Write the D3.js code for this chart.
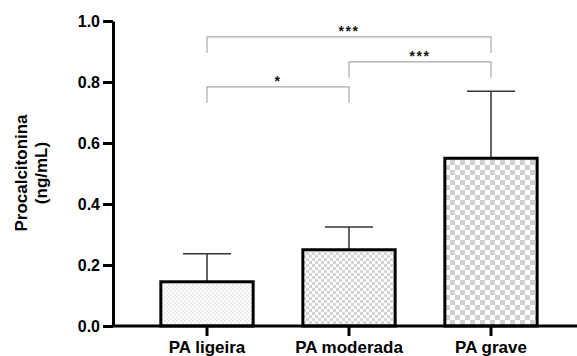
<!DOCTYPE html>
<html lang="en">
<head>
<meta charset="utf-8">
<title>Procalcitonina</title>
<script src="https://d3js.org/d3.v7.min.js"></script>
<style>
  body { margin: 0; background: #fff; }
  text { font-family: "Liberation Sans", Arial, sans-serif; }
</style>
</head>
<body>
<div id="chart"></div>
<script>
// data
var categories = ["PA ligeira", "PA moderada", "PA grave"];
var means = [0.145, 0.25, 0.55];
var errors = [0.092, 0.075, 0.22];
var yTicks = [0.0, 0.2, 0.4, 0.6, 0.8, 1.0];
var bracketFrom = [0, 1, 0];
var bracketTo = [2, 2, 1];
var bracketLevel = [0.948, 0.866, 0.784];
var bracketLabel = ["***", "***", "*"];

var W = 577, H = 356;
var plotLeft = 113, plotRight = 577, plotTop = 21, plotBottom = 326;

var svg = d3.select("#chart").append("svg")
  .attr("width", W)
  .attr("height", H);

var y = d3.scaleLinear().domain([0, 1]).range([plotBottom, plotTop]);
var x = d3.scaleBand().domain(categories)
  .range([136, 562])
  .paddingInner(0.35)
  .paddingOuter(0.175);

// fill patterns (checker, getting coarser per group)
var defs = svg.append("defs");
var pats = [
  { id: "p0", s: 2, c: "#ebebeb" },
  { id: "p1", s: 3, c: "#d4d4d4" },
  { id: "p2", s: 5, c: "#d0d0d0" }
];
pats.forEach(function(p) {
  var pt = defs.append("pattern")
    .attr("id", p.id)
    .attr("patternUnits", "userSpaceOnUse")
    .attr("width", p.s * 2)
    .attr("height", p.s * 2);
  pt.append("rect").attr("width", p.s * 2).attr("height", p.s * 2).attr("fill", "#fff");
  pt.append("rect").attr("width", p.s).attr("height", p.s).attr("fill", p.c);
  pt.append("rect").attr("x", p.s).attr("y", p.s).attr("width", p.s).attr("height", p.s).attr("fill", p.c);
});

// error bars (behind bars)
var cap = 24;
categories.forEach(function(c, i) {
  var cx = x(c) + x.bandwidth() / 2;
  svg.append("line")
    .attr("x1", cx).attr("x2", cx)
    .attr("y1", y(means[i])).attr("y2", y(means[i] + errors[i]))
    .attr("stroke", "#333").attr("stroke-width", 1.5);
  svg.append("line")
    .attr("x1", cx - cap).attr("x2", cx + cap)
    .attr("y1", y(means[i] + errors[i])).attr("y2", y(means[i] + errors[i]))
    .attr("stroke", "#333").attr("stroke-width", 1.5);
});

// bars
svg.selectAll("rect.bar")
  .data(means)
  .enter().append("rect")
  .attr("class", "bar")
  .attr("x", function(d, i) { return x(categories[i]); })
  .attr("y", function(d) { return y(d); })
  .attr("width", x.bandwidth())
  .attr("height", function(d) { return y(0) - y(d); })
  .attr("fill", function(d, i) { return "url(#p" + i + ")"; })
  .attr("stroke", "#000")
  .attr("stroke-width", 3);

// y axis
var yAxis = svg.append("g")
  .attr("transform", "translate(" + plotLeft + ",0)")
  .call(d3.axisLeft(y).tickValues(yTicks).tickFormat(d3.format(".1f"))
    .tickSize(10).tickSizeOuter(0).tickPadding(3));
yAxis.select(".domain").attr("stroke-width", 3);
yAxis.selectAll(".tick line").attr("stroke-width", 3);
yAxis.selectAll(".tick text")
  .attr("font-size", 16).attr("font-weight", "bold").attr("fill", "#000")
  .attr("font-family", "Liberation Sans, Arial, sans-serif");

// x axis
var xAxis = svg.append("g")
  .attr("transform", "translate(0," + plotBottom + ")")
  .call(d3.axisBottom(x).tickSize(10).tickSizeOuter(0).tickPadding(5));
xAxis.select(".domain").remove();
xAxis.selectAll(".tick line").attr("stroke-width", 3);
xAxis.selectAll(".tick text")
  .attr("font-size", 17).attr("font-weight", "bold").attr("fill", "#000")
  .attr("font-family", "Liberation Sans, Arial, sans-serif");
svg.append("line")
  .attr("x1", plotLeft - 1.5).attr("x2", plotRight)
  .attr("y1", plotBottom).attr("y2", plotBottom)
  .attr("stroke", "#000").attr("stroke-width", 3);

// significance brackets
var drop = 0.052;
bracketLevel.forEach(function(lv, i) {
  var x1 = x(categories[bracketFrom[i]]) + x.bandwidth() / 2;
  var x2 = x(categories[bracketTo[i]]) + x.bandwidth() / 2;
  svg.append("path")
    .attr("d", "M" + x1 + "," + y(lv - drop) + "V" + y(lv) + "H" + x2 + "V" + y(lv - drop))
    .attr("fill", "none")
    .attr("stroke", "#a8a8a8")
    .attr("stroke-width", 1.2);
  svg.append("text")
    .attr("x", (x1 + x2) / 2)
    .attr("y", y(lv) - 1)
    .attr("text-anchor", "middle")
    .attr("font-size", 14)
    .attr("font-weight", "bold")
    .attr("letter-spacing", 1.5)
    .attr("fill", "#111")
    .text(bracketLabel[i]);
});

// y axis title
var title = svg.append("text")
  .attr("transform", "translate(27,173) rotate(-90)")
  .attr("text-anchor", "middle")
  .attr("font-size", 17)
  .attr("font-weight", "bold")
  .attr("fill", "#000");
title.append("tspan").attr("x", 0).attr("y", 0).text("Procalcitonina");
title.append("tspan").attr("x", 0).attr("y", 20).text("(ng/mL)");
</script>
</body>
</html>
